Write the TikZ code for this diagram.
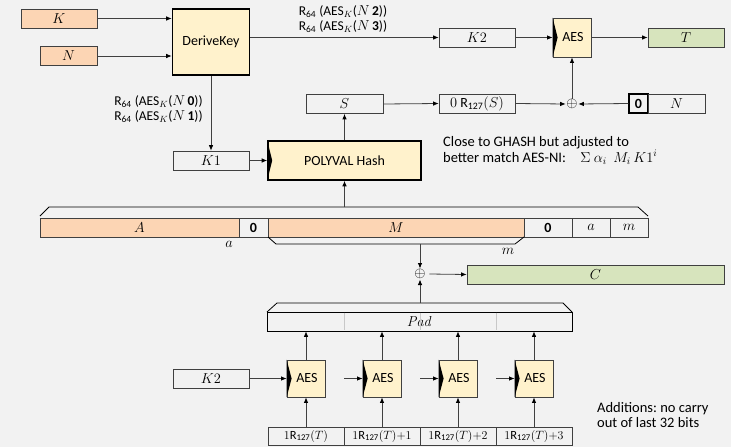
\documentclass[tikz,border=0pt]{standalone}
\usepackage[no-math]{fontspec}
\setmainfont{Carlito}
\usetikzlibrary{arrows.meta,calc}
\definecolor{bg}{HTML}{F2F2F2}
\definecolor{peach}{HTML}{FCD5B4}
\definecolor{yel}{HTML}{FFF2CC}
\definecolor{grn}{HTML}{D7E4BD}
\definecolor{bgray}{HTML}{404040}
\definecolor{lgray}{HTML}{C8C8C8}
\frenchspacing
\begin{document}
\begin{tikzpicture}[x=1pt,y=-1pt,
  font=\fontsize{14}{16}\selectfont,
  box/.style={draw=bgray,line width=0.7pt,inner sep=0pt,minimum height=19pt},
  pbox/.style={box,fill=peach},
  gbox/.style={box,fill=grn},
  zbox/.style={box,draw=black,line width=1.1pt,minimum width=19pt},
  cbox/.style={box,minimum width=76pt,minimum height=18pt,font=\fontsize{12.5}{14}\selectfont},
  func/.style={draw=black,line width=1.6pt,fill=yel,inner sep=0pt},
  aesbox/.style={draw=bgray,line width=0.8pt,fill=yel,inner sep=0pt,minimum width=38pt,minimum height=37pt},
  arr/.style={draw=bgray,line width=0.8pt,-{Latex[length=5.5pt,width=4.5pt,black]}},
  brk/.style={draw=black,line width=0.8pt},
  note/.style={align=left,inner sep=0pt,font=\fontsize{14.5}{15.5}\selectfont},
  lbl/.style={align=center,inner sep=0pt,font=\fontsize{13.5}{15}\selectfont},
  xorn/.style={inner sep=0.5pt,font=\fontsize{14}{14}\selectfont}
]
\fill[bg] (0,0) rectangle (731,447);
\useasboundingbox (0,0) rectangle (731,447);

% top row
\node[pbox,minimum width=76pt] (K) at (59,18.5) {$K$};
\node[pbox,minimum width=57pt] (N) at (68.5,56) {$N$};
\node[func,minimum width=77pt,minimum height=66pt] (DK) at (211,42) {DeriveKey};
\node[box,minimum width=76pt] (K2t) at (477,37.5) {$K2$};
\node[aesbox,minimum height=39pt] (AESt) at (572,37.5) {\hspace{2pt}AES};
\node[gbox,minimum width=76pt] (T) at (686,37.5) {$T$};

\node[lbl] (lab23) at (343,19.5) {R\textsubscript{64} (AES$_K$($N\,$\textbf{2}))\\R\textsubscript{64} (AES$_K$($N\,$\textbf{3}))};
\node[lbl] (lab01) at (158.5,109) {R\textsubscript{64} (AES$_K$($N\,$\textbf{0}))\\R\textsubscript{64} (AES$_K$($N\,$\textbf{1}))};

% second row
\node[box,minimum width=77pt] (S) at (344.5,104) {$S$};
\node[box,minimum width=76pt] (R) at (477,103.5) {$0$ R\textsubscript{127}$(S)$};
\node[xorn] (x1) at (572,104) {$\oplus$};
\node[zbox] (z1) at (638.5,103.5) {\textbf{0}};
\node[box,minimum width=57pt] (Nr) at (676.5,103.5) {$N$};

% third row
\node[box,minimum width=76pt] (K1) at (211,160.5) {$K1$};
\node[func,minimum width=153pt,minimum height=39pt] (P) at (344.5,160.5) {POLYVAL Hash};
\node[note,anchor=west] (nt1) at (443,150.5) {Close to GHASH but adjusted to\\better match AES-NI:\quad $\Sigma\ \alpha_i\ \ M_i\,K1^i$};

% data row
\node[pbox,minimum width=199pt] (A) at (139.5,227.5) {$A$};
\node[box,minimum width=29pt] (z2) at (253.5,227.5) {\textbf{0}};
\node[pbox,minimum width=256pt] (M) at (396,227.5) {$M$};
\node[box,minimum width=48pt] (z3) at (548,227.5) {\textbf{0}};
\node[box,minimum width=38pt] (la) at (591,227.5) {$a$};
\node[box,minimum width=38pt] (lm) at (629,227.5) {$m$};
\node[inner sep=0pt] (ta) at (229,244) {$a$};
\node[inner sep=0pt] (tm) at (508,251) {$m$};

\draw[brk] (40,216) -- (49,207) -- (638,207) -- (648,216);
\coordinate (btop) at (344.5,207);
\draw[brk] (268,237) -- (276,244) -- (515,244) -- (524,237);
\coordinate (bbot) at (420,244);

% xor and C
\node[xorn] (x2) at (420,274) {$\oplus$};
\node[gbox,minimum width=257pt] (C) at (595.5,274.5) {$C$};

% pad
\node[box,draw=black,minimum width=305pt] (Pad) at (419.5,321.5) {$\mathit{Pad}$};
\foreach \xx in {344,420,496} \draw[lgray,line width=0.8pt] (\xx,312.6) -- (\xx,330.4);
\draw[brk] (267,312) -- (277,303) -- (563,303) -- (572,312);
\coordinate (ptop) at (420,303);

% AES row
\foreach \i/\xx in {1/306,2/382,3/458,4/534}{
  \node[aesbox] (E\i) at (\xx,378.5) {\hspace{2pt}AES};
}
\node[box,minimum width=76pt] (K2b) at (211,378.5) {$K2$};
\node[cbox] (c1) at (306,436) {$1$R\textsubscript{127}$(T)$};
\node[cbox] (c2) at (382,436) {$1$R\textsubscript{127}$(T){+}1$};
\node[cbox] (c3) at (458,436) {$1$R\textsubscript{127}$(T){+}2$};
\node[cbox] (c4) at (534,436) {$1$R\textsubscript{127}$(T){+}3$};
\coordinate (s2) at (344,378.5);
\coordinate (s3) at (420,378.5);
\coordinate (s4) at (496,378.5);
\node[note,anchor=west] (nt2) at (597,415) {Additions: no carry\\out of last 32 bits};

% notches
\foreach \n in {AESt,P,E1,E2,E3,E4}{
  \fill[black] (\n.north west) -- ([xshift=5pt]\n.west) -- (\n.south west) -- cycle;
}

% connectors
\draw[arr] (K.east) -- (K.east -| DK.west);
\draw[arr] (N.east) -- (N.east -| DK.west);
\draw[arr] (K2t.west -| DK.east) -- (K2t.west);
\draw[arr] (K2t.east) -- (AESt.west);
\draw[arr] (AESt.east) -- (T.west);
\draw[arr] (x1.north) -- (AESt.south);
\draw[arr] (S.east) -- (R.west);
\draw[arr] (R.east) -- (x1.west);
\draw[arr] (z1.west) -- (x1.east);
\draw[arr] (DK.south) -- (K1.north);
\draw[arr] (K1.east) -- (P.west);
\draw[arr] (P.north) -- (S.south);
\draw[arr] (btop) -- (P.south);
\draw[arr] (bbot) -- (x2.north);
\draw[arr] (x2.east) ++(3pt,0) -- (C.west);
\draw[arr] (ptop) -- (x2.south);
\foreach \i in {1,2,3,4}{
  \draw[arr] (E\i.north) -- (E\i.north |- Pad.south);
  \draw[arr] (c\i.north) -- (E\i.south);
}
\draw[arr] (K2b.east) -- (E1.west);
\draw[arr] (s2) -- (E2.west);
\draw[arr] (s3) -- (E3.west);
\draw[arr] (s4) -- (E4.west);
\end{tikzpicture}
\end{document}
